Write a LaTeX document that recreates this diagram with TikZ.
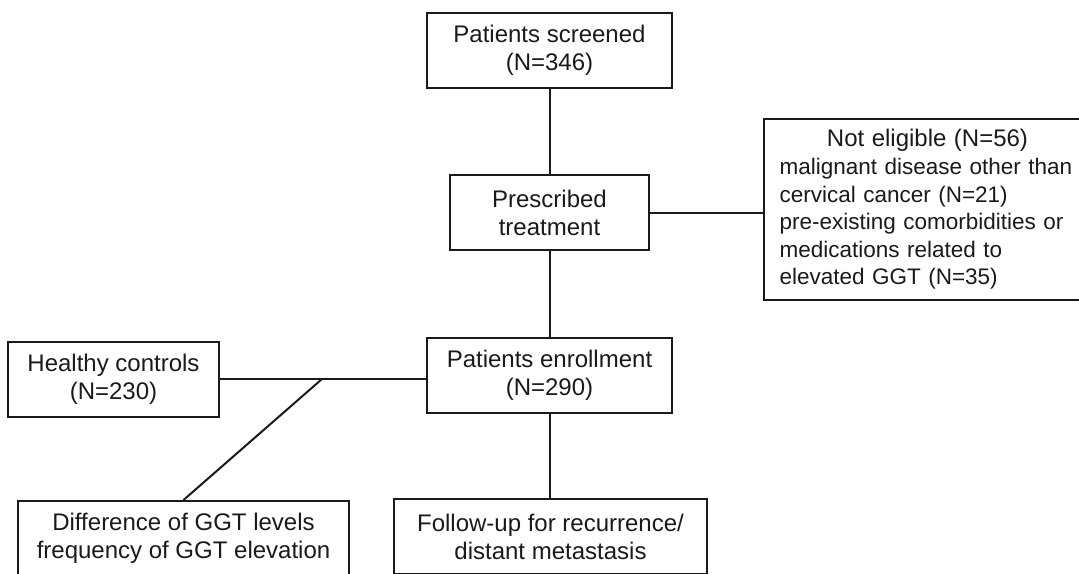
\documentclass[tikz,border=0pt]{standalone}
\usepackage{fontspec}
\setmainfont{Liberation Sans}
\definecolor{ink}{HTML}{1A1A1A}
\begin{document}
\begin{tikzpicture}[x=1pt,y=-1pt,
  box/.style={draw=ink, line width=2pt, text=ink, font=\fontsize{24}{28}\selectfont,
    align=center, inner sep=0pt, minimum height=75pt},
  link/.style={draw=ink, line width=2pt}]
\useasboundingbox (0,0) rectangle (1079,573);
\clip (0,0) rectangle (1079,573);
\node[box, minimum width=245pt] (screened) at (549.5,50.5) {Patients screened\\(N=346)};
\node[box, minimum width=199pt] (prescribed) at (549.5,212.5) {Prescribed\\treatment};
\node[box, minimum width=331pt, minimum height=181pt, text width=300pt, align=left,
      font=\fontsize{22.5}{27.6}\selectfont] (noteligible) at (929.5,209.5)
  {\makebox[296pt][c]{\fontsize{24}{28}\selectfont Not eligible (N=56)}\\
   malignant disease other than\\
   cervical cancer (N=21)\\
   pre-existing comorbidities or\\
   medications related to\\
   elevated GGT (N=35)};
\node[box, minimum width=211pt] (healthy) at (113.5,379.5) {Healthy controls\\(N=230)};
\node[box, minimum width=245pt] (enroll) at (549.5,375.5) {Patients enrollment\\(N=290)};
\node[box, minimum width=331pt] (difference) at (183.5,538.5) {Difference of GGT levels\\frequency of GGT elevation};
\node[box, minimum width=313pt] (followup) at (550.5,536.5) {Follow-up for recurrence/\\distant metastasis};
\coordinate (junction) at (322,379);
\draw[link] (screened.south) -- (prescribed.north);
\draw[link] (prescribed.south) -- (enroll.north);
\draw[link] (prescribed.east) -- (prescribed.east -| noteligible.west);
\draw[link] (healthy.east |- junction) -- (junction -| enroll.west);
\draw[link] (junction) -- (difference.north);
\draw[link] (enroll.south) -- (followup.north -| enroll.south);
\end{tikzpicture}
\end{document}
